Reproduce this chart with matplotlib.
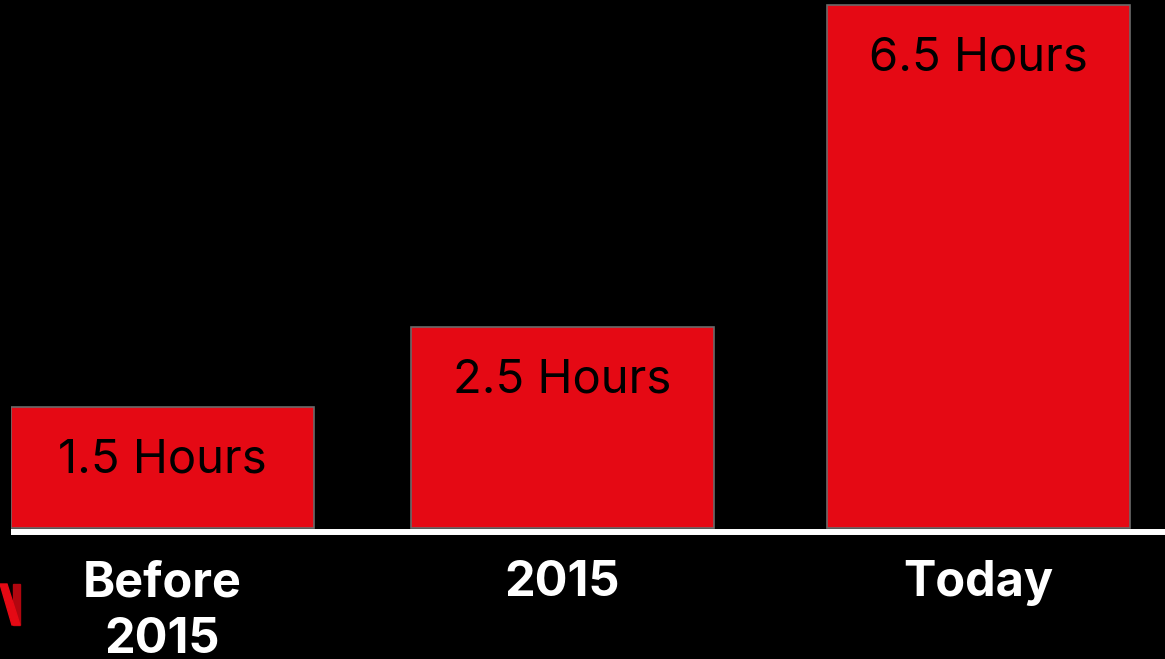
"""Viewing hours per day bar chart, Netflix style."""

import matplotlib.pyplot as plt
from matplotlib.patches import Polygon

categories = ["Before\n2015", "2015", "Today"]
hours = [1.5, 2.5, 6.5]
value_labels = ["1.5 Hours", "2.5 Hours", "6.5 Hours"]

NETFLIX_RED = "#E50914"
DARK_RED = "#B1060F"

W, H = 1165, 659
fig = plt.figure(figsize=(W / 100, H / 100), dpi=100, facecolor="black")
ax = fig.add_axes([11 / W, (H - 540) / H, 1 - 11 / W, 540 / H])
ax.set_facecolor("black")

positions = [0, 0.98, 2.0]
ax.bar(positions, hours, width=0.743, color=NETFLIX_RED,
       edgecolor="#6a6a6a", linewidth=1.2, zorder=3)
ax.axhline(-0.055, xmin=2 / (W - 11), color="white", linewidth=4.3, zorder=2)

for x, value, label in zip(positions, hours, value_labels):
    ax.annotate(label, (x, value), xytext=(0, -53), textcoords="offset pixels",
                ha="center", va="center", fontsize=34, family="Inter",
                color="black", zorder=4)

for x, cat in zip(positions, categories):
    ax.annotate(cat, (x, 0), xytext=(0, -32), textcoords="offset pixels",
                ha="center", va="top", fontsize=35, family="Inter",
                fontweight="bold", color="white", linespacing=1.3,
                annotation_clip=False)

ax.set_xlim(-0.371, 2.457)
ax.set_ylim(-0.149, 6.567)
ax.axis("off")

# clipped Netflix "N" at the lower left corner
def px(x, y):
    return (x / W, 1 - y / H)

fig.patches.append(Polygon([px(13, 584), px(20, 584), px(20, 625), px(13, 625)],
                           closed=True, color=DARK_RED, transform=fig.transFigure))
fig.patches.append(Polygon([px(0, 584), px(7, 584), px(20, 625), px(12, 625)],
                           closed=True, color=NETFLIX_RED, transform=fig.transFigure))

fig.savefig("out.png", dpi=100, facecolor="black")
